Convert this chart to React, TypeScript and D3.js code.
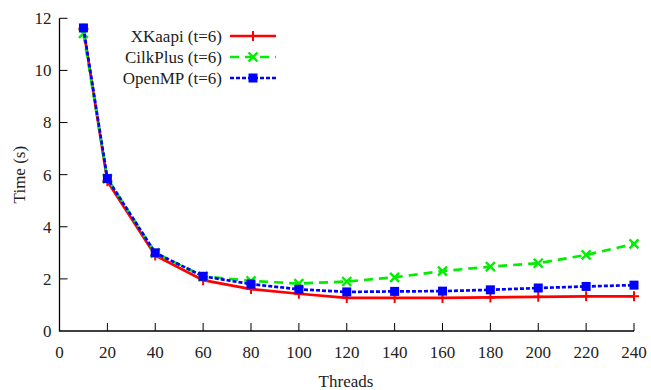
import React from "react";
import * as d3 from "d3";

const threads = [10, 20, 40, 60, 80, 100, 120, 140, 160, 180, 200, 220, 240];
const xkaapi = [11.6, 5.75, 2.9, 1.95, 1.61, 1.43, 1.27, 1.27, 1.27, 1.29, 1.31, 1.33, 1.33];
const cilkplus = [11.42, 5.85, 3.0, 2.1, 1.92, 1.82, 1.9, 2.06, 2.3, 2.47, 2.6, 2.92, 3.34];
const openmp = [11.63, 5.85, 3.0, 2.1, 1.8, 1.6, 1.5, 1.52, 1.53, 1.58, 1.65, 1.71, 1.76];
const xTicks = [0, 20, 40, 60, 80, 100, 120, 140, 160, 180, 200, 220, 240];
const yTicks = [0, 2, 4, 6, 8, 10, 12];

const series = [
  { name: "XKaapi (t=6)", values: xkaapi, color: "#ff0000", dash: "none", marker: "plus" },
  { name: "CilkPlus (t=6)", values: cilkplus, color: "#00ee00", dash: "9,6", marker: "x" },
  { name: "OpenMP (t=6)", values: openmp, color: "#0000ff", dash: "4,2", marker: "square" },
];

function Marker({ type, x, y, color }: { type: string; x: number; y: number; color: string }) {
  if (type === "plus") {
    return (
      <path d={`M${x - 5},${y}H${x + 5}M${x},${y - 5}V${y + 5}`} stroke={color} strokeWidth={2} />
    );
  }
  if (type === "x") {
    return (
      <path d={`M${x - 4.5},${y - 4.5}L${x + 4.5},${y + 4.5}M${x - 4.5},${y + 4.5}L${x + 4.5},${y - 4.5}`} stroke={color} strokeWidth={2.4} />
    );
  }
  return <rect x={x - 4.5} y={y - 4.5} width={9} height={9} fill={color} />;
}

export default function App() {
  const W = 651, H = 390;
  const x = d3.scaleLinear().domain([0, 240]).range([59.5, 634]);
  const y = d3.scaleLinear().domain([0, 12]).range([331, 18.3]);
  const line = d3
    .line<number>()
    .x((_, i) => x(threads[i]))
    .y((d) => y(d));
  const font = "'Liberation Serif', 'Times New Roman', serif";
  const fs = 17;
  return (
    <svg width={W} height={H} style={{ position: "absolute", left: 0, top: 0 }} fontFamily={font}>
      <rect width={W} height={H} fill="#fff" />
      <path d={`M${x(0)},${y(12)}V${y(0)}H${x(240)}`} fill="none" stroke="#000" strokeWidth={1.3} />
      {yTicks.map((t) => (
        <g key={"y" + t}>
          {t > 0 && <line x1={x(0)} x2={x(0) + 8} y1={y(t)} y2={y(t)} stroke="#000" strokeWidth={1} />}
          <text x={x(0) - 8} y={y(t)} dy="0.35em" textAnchor="end" fontSize={fs} fill="#222">
            {t}
          </text>
        </g>
      ))}
      {xTicks.map((t) => (
        <g key={"x" + t}>
          {t > 0 && <line x1={x(t)} x2={x(t)} y1={y(0)} y2={y(0) - 8} stroke="#000" strokeWidth={1} />}
          <text x={x(t)} y={358} textAnchor="middle" fontSize={fs} fill="#222">
            {t}
          </text>
        </g>
      ))}
      <text x={346} y={387} textAnchor="middle" fontSize={fs} fill="#222">
        Threads
      </text>
      <text transform={`translate(25,${(y(0) + y(12)) / 2}) rotate(-90)`} textAnchor="middle" fontSize={fs} fill="#222">
        Time (s)
      </text>
      {series.map((s) => (
        <g key={s.name}>
          <path d={line(s.values) || ""} fill="none" stroke={s.color} strokeWidth={2.7} strokeDasharray={s.dash} />
          {s.values.map((v, i) => (
            <Marker key={i} type={s.marker} x={x(threads[i])} y={y(v)} color={s.color} />
          ))}
        </g>
      ))}
      {series.map((s, i) => {
        const ly = 36 + i * 21;
        return (
          <g key={"l" + s.name}>
            <text x={222} y={ly} dy="0.35em" textAnchor="end" fontSize={fs} fill="#222">
              {s.name}
            </text>
            <line x1={230} x2={276} y1={ly} y2={ly} stroke={s.color} strokeWidth={2.7} strokeDasharray={s.dash} />
            <Marker type={s.marker} x={253} y={ly} color={s.color} />
          </g>
        );
      })}
    </svg>
  );
}
